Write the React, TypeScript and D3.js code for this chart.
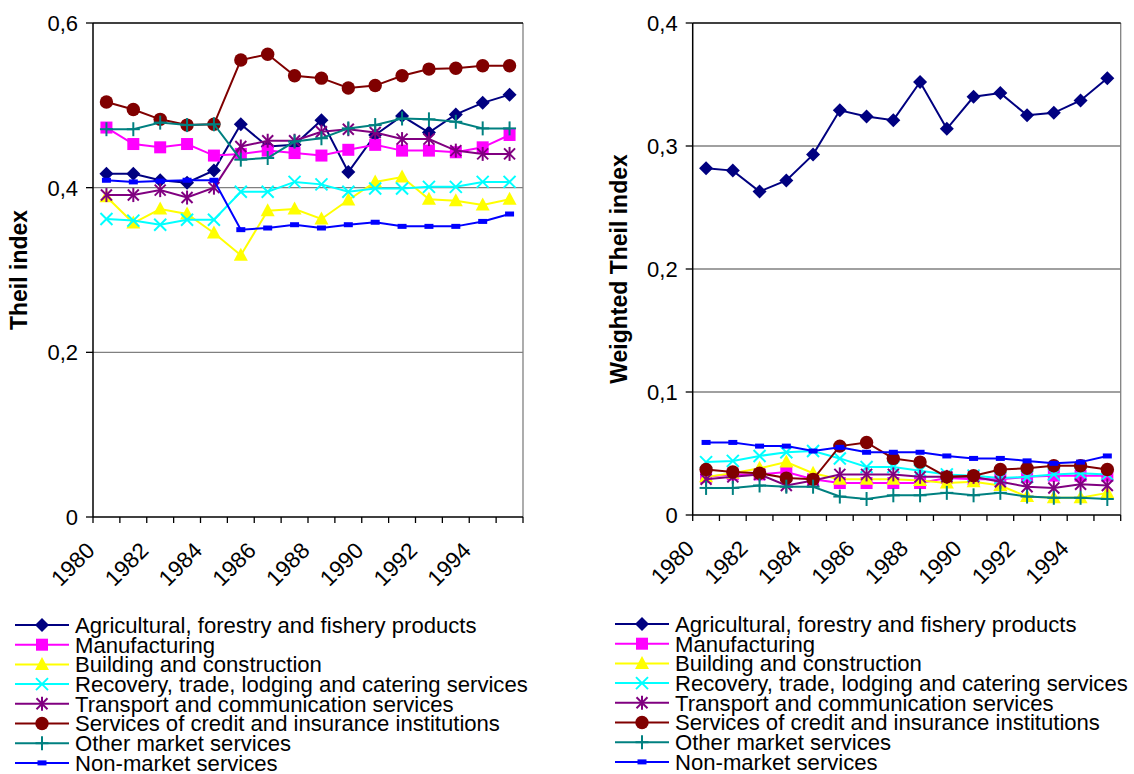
import React from "react";
import * as d3 from "d3";

const years = [1980,1981,1982,1983,1984,1985,1986,1987,1988,1989,1990,1991,1992,1993,1994,1995];
const tickYears = ["1980","1982","1984","1986","1988","1990","1992","1994"];

const seriesNames = [
  "Agricultural, forestry and fishery products",
  "Manufacturing",
  "Building and construction",
  "Recovery, trade, lodging and catering services",
  "Transport and communication services",
  "Services of credit and insurance institutions",
  "Other market services",
  "Non-market services",
];
const seriesColors = ["#000080","#FF00FF","#FFFF00","#00FFFF","#800080","#800000","#008080","#0000FF"];
const seriesMarkers = ["diamond","square","triangle","x","star","circle","plus","dash"];

// Left chart: Theil index
const agri = [0.417,0.417,0.409,0.406,0.421,0.477,0.450,0.452,0.482,0.419,0.464,0.487,0.467,0.489,0.503,0.513];
const manuf = [0.473,0.453,0.449,0.453,0.439,0.441,0.445,0.442,0.439,0.446,0.452,0.445,0.445,0.443,0.449,0.464];
const build = [0.389,0.357,0.374,0.368,0.345,0.318,0.372,0.374,0.362,0.385,0.407,0.413,0.386,0.384,0.379,0.386];
const recov = [0.362,0.360,0.355,0.361,0.361,0.395,0.395,0.407,0.404,0.395,0.399,0.399,0.401,0.401,0.407,0.407];
const transp = [0.391,0.391,0.397,0.388,0.400,0.450,0.457,0.457,0.468,0.471,0.467,0.459,0.459,0.445,0.441,0.441];
const credit = [0.504,0.495,0.483,0.476,0.477,0.555,0.562,0.536,0.533,0.521,0.524,0.536,0.544,0.545,0.548,0.548];
const other = [0.471,0.471,0.479,0.476,0.477,0.434,0.436,0.456,0.460,0.472,0.476,0.484,0.483,0.480,0.472,0.472];
const nonmkt = [0.409,0.407,0.408,0.409,0.409,0.349,0.351,0.355,0.351,0.355,0.358,0.353,0.353,0.353,0.359,0.368];

// Right chart: Weighted Theil index
const agriW = [0.282,0.280,0.263,0.272,0.293,0.329,0.324,0.321,0.352,0.314,0.340,0.343,0.325,0.327,0.337,0.355];
const manufW = [0.031,0.033,0.033,0.035,0.029,0.026,0.026,0.026,0.026,0.030,0.029,0.029,0.031,0.032,0.032,0.032];
const buildW = [0.031,0.034,0.038,0.043,0.034,0.029,0.029,0.029,0.028,0.026,0.027,0.024,0.015,0.014,0.014,0.018];
const recovW = [0.043,0.044,0.048,0.051,0.052,0.046,0.039,0.039,0.036,0.033,0.032,0.030,0.031,0.033,0.034,0.033];
const transpW = [0.029,0.031,0.033,0.024,0.028,0.033,0.033,0.033,0.031,0.031,0.031,0.027,0.023,0.022,0.025,0.024];
const creditW = [0.037,0.035,0.034,0.030,0.029,0.056,0.059,0.046,0.043,0.031,0.032,0.037,0.038,0.040,0.040,0.037];
const otherW = [0.022,0.022,0.024,0.023,0.023,0.015,0.013,0.016,0.016,0.018,0.016,0.018,0.015,0.014,0.014,0.013];
const nonmktW = [0.059,0.059,0.056,0.056,0.052,0.055,0.051,0.051,0.051,0.048,0.046,0.046,0.044,0.042,0.043,0.048];

const leftTicks = [0, 0.2, 0.4, 0.6];
const rightTicks = [0, 0.1, 0.2, 0.3, 0.4];

const FONT = "'Liberation Sans', Arial, Helvetica, sans-serif";

function Marker({ type, x, y, color }: { type: string; x: number; y: number; color: string }) {
  switch (type) {
    case "diamond":
      return <path d={`M${x},${y - 7}L${x + 7},${y}L${x},${y + 7}L${x - 7},${y}Z`} fill={color} />;
    case "square":
      return <rect x={x - 6} y={y - 6} width={12} height={12} fill={color} />;
    case "triangle":
      return <path d={`M${x},${y - 7.5}L${x + 7},${y + 5.5}L${x - 7},${y + 5.5}Z`} fill={color} />;
    case "x":
      return (
        <g stroke={color} strokeWidth={2}>
          <line x1={x - 6} y1={y - 6} x2={x + 6} y2={y + 6} />
          <line x1={x - 6} y1={y + 6} x2={x + 6} y2={y - 6} />
        </g>
      );
    case "star":
      return (
        <g stroke={color} strokeWidth={2}>
          <line x1={x - 5.5} y1={y - 5.5} x2={x + 5.5} y2={y + 5.5} />
          <line x1={x - 5.5} y1={y + 5.5} x2={x + 5.5} y2={y - 5.5} />
          <line x1={x} y1={y - 7} x2={x} y2={y + 7} />
        </g>
      );
    case "circle":
      return <circle cx={x} cy={y} r={6.7} fill={color} />;
    case "plus":
      return (
        <g stroke={color} strokeWidth={2}>
          <line x1={x - 6.5} y1={y} x2={x + 6.5} y2={y} />
          <line x1={x} y1={y - 7} x2={x} y2={y + 7} />
        </g>
      );
    case "dash":
      return <rect x={x - 4.5} y={y - 2.5} width={9} height={5} fill={color} />;
    default:
      return null;
  }
}

type ChartProps = {
  data: number[][];
  left: number;
  right: number;
  top: number;
  bottom: number;
  maxY: number;
  ticks: number[];
  title: string;
  titleX: number;
};

function Chart({ data, left, right, top, bottom, maxY, ticks, title, titleX }: ChartProps) {
  const x = d3.scaleBand<number>().domain(years).range([left, right]).paddingInner(0).paddingOuter(0);
  const y = d3.scaleLinear().domain([0, maxY]).range([bottom, top]);
  const bw = x.bandwidth();
  const cx = (yr: number) => (x(yr) as number) + bw / 2;
  const line = d3
    .line<number>()
    .x((_, i) => cx(years[i]))
    .y((d) => y(d));
  const fmt = (v: number) => (v === 0 ? "0" : d3.format(".1f")(v).replace(".", ","));
  const boundaries = d3.range(years.length + 1).map((i) => left + i * bw);
  return (
    <g>
      {ticks.filter((t) => t > 0 && t < maxY).map((t) => (
        <line key={"g" + t} x1={left} x2={right} y1={y(t)} y2={y(t)} stroke="#808080" strokeWidth={1.3} />
      ))}
      <line x1={right} x2={right} y1={top} y2={bottom} stroke="#808080" strokeWidth={1.3} />
      <line x1={left} x2={right} y1={top} y2={top} stroke="#000" strokeWidth={1.5} />
      <line x1={left} x2={left} y1={top} y2={bottom} stroke="#000" strokeWidth={1.5} />
      <line x1={left} x2={right} y1={bottom} y2={bottom} stroke="#000" strokeWidth={1.5} />
      {ticks.map((t) => (
        <g key={"t" + t}>
          <line x1={left - 7} x2={left} y1={y(t)} y2={y(t)} stroke="#000" strokeWidth={1.3} />
          <text x={left - 15} y={y(t)} dy="0.36em" textAnchor="end" fontSize={22} fontFamily={FONT} fill="#000">
            {fmt(t)}
          </text>
        </g>
      ))}
      {boundaries.map((bx, i) => (
        <line key={"xt" + i} x1={bx} x2={bx} y1={bottom} y2={bottom + 6} stroke="#000" strokeWidth={1.3} />
      ))}
      {tickYears.map((lab, k) => {
        const bx = left + 2 * k * bw;
        return (
          <text
            key={"xl" + lab}
            transform={`translate(${bx + 3},${bottom + 35}) rotate(-45)`}
            textAnchor="end"
            fontSize={22.5}
            fontFamily={FONT}
            fill="#000"
          >
            {lab}
          </text>
        );
      })}
      <text
        transform={`translate(${titleX},${(top + bottom) / 2}) rotate(-90)`}
        textAnchor="middle"
        fontSize={23}
        fontWeight="bold"
        fontFamily={FONT}
        fill="#000"
      >
        {title}
      </text>
      {data.map((vals, s) => (
        <g key={"s" + s}>
          <path d={line(vals) || ""} fill="none" stroke={seriesColors[s]} strokeWidth={2} />
          {vals.map((v, i) => (
            <Marker key={i} type={seriesMarkers[s]} x={cx(years[i])} y={y(v)} color={seriesColors[s]} />
          ))}
        </g>
      ))}
    </g>
  );
}

function Legend({ x0, y0 }: { x0: number; y0: number }) {
  const step = 19.7;
  return (
    <g>
      {seriesNames.map((name, i) => {
        const yy = y0 + i * step;
        return (
          <g key={name}>
            <line x1={x0} x2={x0 + 54} y1={yy} y2={yy} stroke={seriesColors[i]} strokeWidth={2} />
            <Marker type={seriesMarkers[i]} x={x0 + 27} y={yy} color={seriesColors[i]} />
            <text x={x0 + 60} y={yy} dy="0.36em" fontSize={22.1} fontFamily={FONT} fill="#000">
              {name}
            </text>
          </g>
        );
      })}
    </g>
  );
}

export default function App() {
  const leftData = [agri, manuf, build, recov, transp, credit, other, nonmkt];
  const rightData = [agriW, manufW, buildW, recovW, transpW, creditW, otherW, nonmktW];
  return (
    <svg
      width={1134}
      height={774}
      style={{ position: "absolute", left: 0, top: 0, background: "#fff" }}
    >
      <rect x={0} y={0} width={1134} height={774} fill="#fff" />
      <Chart data={leftData} left={93} right={523} top={23} bottom={517} maxY={0.6} ticks={leftTicks} title="Theil index" titleX={27} />
      <Chart data={rightData} left={692.7} right={1120.7} top={23} bottom={515} maxY={0.4} ticks={rightTicks} title="Weighted Theil index" titleX={627} />
      <Legend x0={15} y0={625} />
      <Legend x0={615} y0={624} />
    </svg>
  );
}
